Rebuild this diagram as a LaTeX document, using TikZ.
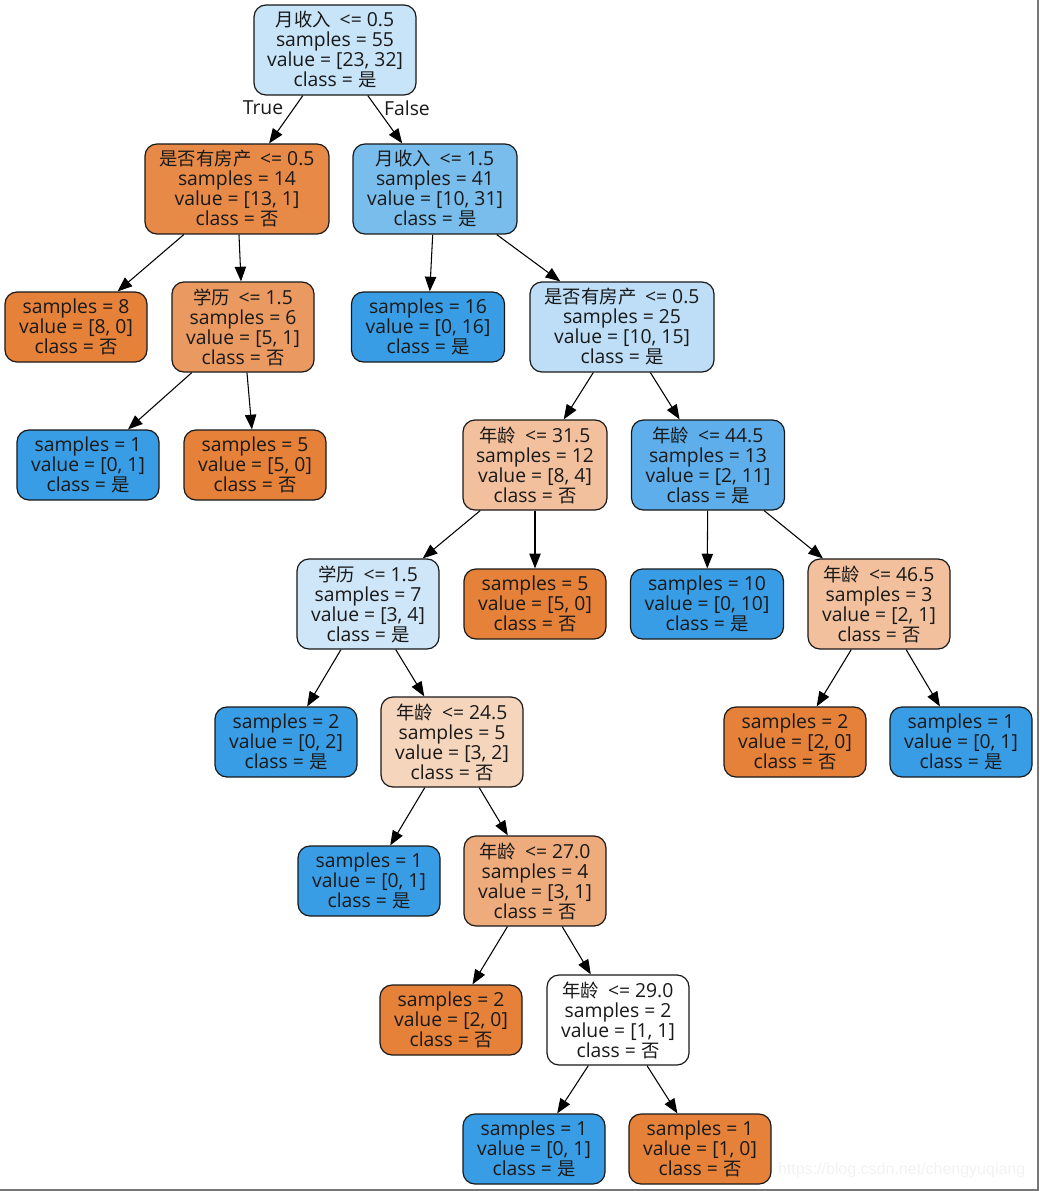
\documentclass[tikz,border=0pt]{standalone}
\usepackage{fontspec}
\setmainfont{Open Sans}
\newfontfamily\cjk{Noto Sans CJK SC}[Scale=0.95]
\newfontfamily\wmfont{Liberation Sans}
\usetikzlibrary{arrows.meta}
\definecolor{cRoot}{HTML}{C8E4F8}
\definecolor{cA}{HTML}{E78A48}
\definecolor{cB}{HTML}{79BDED}
\definecolor{cOr}{HTML}{E58139}
\definecolor{cBl}{HTML}{399DE5}
\definecolor{cA2}{HTML}{EA9A61}
\definecolor{cB2}{HTML}{BDDEF6}
\definecolor{cHalf}{HTML}{F2C09C}
\definecolor{cD}{HTML}{5DAEEA}
\definecolor{cC1}{HTML}{CEE6F8}
\definecolor{cC1b}{HTML}{F6D5BD}
\definecolor{cE2}{HTML}{EEAB7B}
\definecolor{frame}{HTML}{777777}
\newcommand{\yes}{{\cjk 是}}
\newcommand{\no}{{\cjk 否}}
\newcommand{\zh}[1]{{\cjk #1}\hspace{0.45em}}
\tikzset{
  tn/.style={draw=black!90, line width=0.9pt, rounded corners=9pt, align=center,
    inner sep=0pt, font=\fontsize{14.5}{15}\selectfont, text=black!90},
  w/.style={minimum width=#1*0.75pt},
  int/.style={minimum height=90*0.75pt},
  leaf/.style={minimum height=70*0.75pt},
  edge/.style={-{Triangle[length=11pt,width=8.5pt]}, line width=0.8pt, black},
  elabel/.style={font=\fontsize{14.5}{15}\selectfont, text=black!90, inner sep=0pt},
}
\begin{document}
\begin{tikzpicture}[x=0.75pt,y=-0.75pt]
\useasboundingbox (0,0) rectangle (1039,1191);
\draw[frame, line width=1.5pt] (1037.5,0) -- (1037.5,1190) -- (0,1190);
\node[text=black!5, font=\wmfont\fontsize{12}{12}\selectfont, anchor=east] (wm) at (1030,1170) {https://blog.csdn.net/chengyuqiang};

\node[tn,w=162,int,fill=cRoot] (n0) at (335,50) {\zh{月收入}<= 0.5\\samples = 55\\value = [23, 32]\\class = \yes};
\node[tn,w=184,int,fill=cA] (nA) at (237,189) {\zh{是否有房产}<= 0.5\\samples = 14\\value = [13, 1]\\class = \no};
\node[tn,w=164,int,fill=cB] (nB) at (435,189) {\zh{月收入}<= 1.5\\samples = 41\\value = [10, 31]\\class = \yes};
\node[tn,w=142,leaf,fill=cOr] (nA1) at (76,327) {samples = 8\\value = [8, 0]\\class = \no};
\node[tn,w=142,int,fill=cA2] (nA2) at (243,327) {\zh{学历}<= 1.5\\samples = 6\\value = [5, 1]\\class = \no};
\node[tn,w=153,leaf,fill=cBl] (nB1) at (428,327) {samples = 16\\value = [0, 16]\\class = \yes};
\node[tn,w=184,int,fill=cB2] (nB2) at (622,327) {\zh{是否有房产}<= 0.5\\samples = 25\\value = [10, 15]\\class = \yes};
\node[tn,w=142,leaf,fill=cBl] (nA2a) at (88,465) {samples = 1\\value = [0, 1]\\class = \yes};
\node[tn,w=142,leaf,fill=cOr] (nA2b) at (255,465) {samples = 5\\value = [5, 0]\\class = \no};
\node[tn,w=144,int,fill=cHalf] (nC) at (535,465) {\zh{年龄}<= 31.5\\samples = 12\\value = [8, 4]\\class = \no};
\node[tn,w=153,int,fill=cD] (nD) at (708,465) {\zh{年龄}<= 44.5\\samples = 13\\value = [2, 11]\\class = \yes};
\node[tn,w=142,int,fill=cC1] (nC1) at (368,604) {\zh{学历}<= 1.5\\samples = 7\\value = [3, 4]\\class = \yes};
\node[tn,w=142,leaf,fill=cOr] (nC2) at (535,604) {samples = 5\\value = [5, 0]\\class = \no};
\node[tn,w=153,leaf,fill=cBl] (nD1) at (707,604) {samples = 10\\value = [0, 10]\\class = \yes};
\node[tn,w=142,int,fill=cHalf] (nD2) at (879,604) {\zh{年龄}<= 46.5\\samples = 3\\value = [2, 1]\\class = \no};
\node[tn,w=142,leaf,fill=cBl] (nC1a) at (286,742) {samples = 2\\value = [0, 2]\\class = \yes};
\node[tn,w=142,int,fill=cC1b] (nC1b) at (452,742) {\zh{年龄}<= 24.5\\samples = 5\\value = [3, 2]\\class = \no};
\node[tn,w=142,leaf,fill=cOr] (nD2a) at (795,742) {samples = 2\\value = [2, 0]\\class = \no};
\node[tn,w=142,leaf,fill=cBl] (nD2b) at (961,742) {samples = 1\\value = [0, 1]\\class = \yes};
\node[tn,w=142,leaf,fill=cBl] (nE1) at (369,881) {samples = 1\\value = [0, 1]\\class = \yes};
\node[tn,w=142,int,fill=cE2] (nE2) at (535,881) {\zh{年龄}<= 27.0\\samples = 4\\value = [3, 1]\\class = \no};
\node[tn,w=142,leaf,fill=cOr] (nF1) at (451,1020) {samples = 2\\value = [2, 0]\\class = \no};
\node[tn,w=142,int,fill=white] (nF2) at (618,1020) {\zh{年龄}<= 29.0\\samples = 2\\value = [1, 1]\\class = \no};
\node[tn,w=142,leaf,fill=cBl] (nG1) at (534,1149) {samples = 1\\value = [0, 1]\\class = \yes};
\node[tn,w=142,leaf,fill=cOr] (nG2) at (700,1149) {samples = 1\\value = [1, 0]\\class = \no};

\node[elabel] (lt) at (263,108) {True};
\node[elabel] (lf) at (407,108) {False};

\foreach \a/\b in {n0/nA, n0/nB, nA/nA1, nA/nA2, nB/nB1, nB/nB2, nA2/nA2a, nA2/nA2b,
  nB2/nC, nB2/nD, nC/nC1, nC/nC2, nD/nD1, nD/nD2, nC1/nC1a, nC1/nC1b, nD2/nD2a, nD2/nD2b,
  nC1b/nE1, nC1b/nE2, nE2/nF1, nE2/nF2, nF2/nG1, nF2/nG2}
  \draw[edge] (\a) -- (\b);
\end{tikzpicture}
\end{document}
